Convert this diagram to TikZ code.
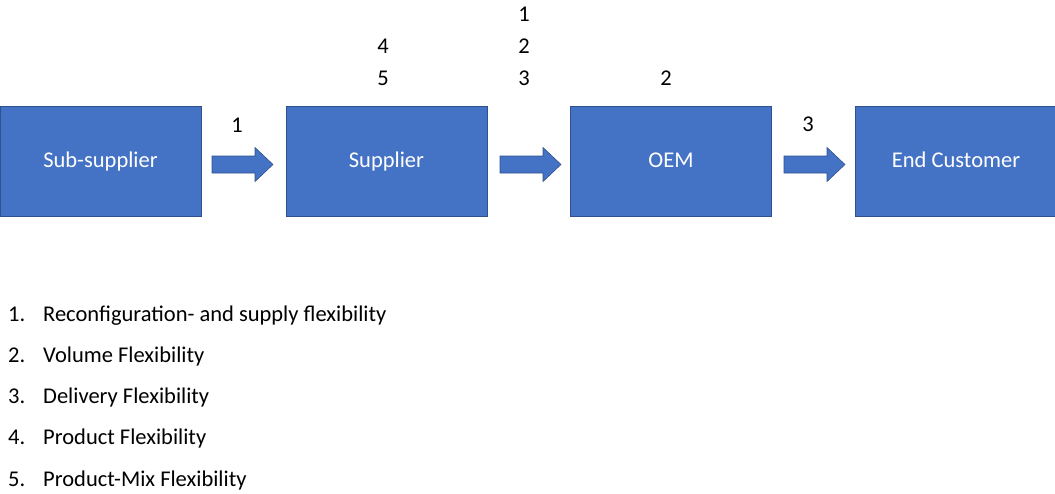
\documentclass[tikz,border=0pt]{standalone}
\usepackage{fontspec}
\setmainfont{Carlito}
\definecolor{boxblue}{HTML}{4472C4}
\definecolor{boxedge}{HTML}{2F528F}
\begin{document}
\begin{tikzpicture}[x=1pt,y=-1pt,
  every node/.style={font=\fontsize{22.5}{27}\selectfont, inner sep=0pt},
  stage/.style={rectangle, fill=boxblue, draw=boxedge, line width=0.6pt,
    minimum width=201pt, minimum height=110pt, text=white,
    text height=16pt, text depth=4pt},
  tag/.style={anchor=base, text=black},
  item/.style={anchor=base west, text=black},
  blockarrow/.pic={
    \draw[fill=boxblue, draw=boxedge, line width=0.6pt]
      (0,-8.5) -- (43,-8.5) -- (43,-17) -- (61,0) -- (43,17) -- (43,8.5) -- (0,8.5) -- cycle;
  }]
\useasboundingbox (0,0) rectangle (1055,493);

% supply chain stages
\node[stage] (sub) at (100.5,161) {Sub-supplier};
\node[stage] (sup) at (386.5,161) {Supplier};
\node[stage] (oem) at (671,161) {OEM};
\node[stage] (cust) at (956,161) {End Customer};

% flow arrows between stages
\pic at (212,164.5) {blockarrow};
\pic at (500,164.5) {blockarrow};
\pic at (784,164.5) {blockarrow};

% flexibility types at each link and stage
\node[tag] (f1a) at (237,132) {1};
\node[tag] (f4) at (383,53) {4};
\node[tag] (f5) at (383,85) {5};
\node[tag] (f1b) at (524,21) {1};
\node[tag] (f2a) at (524,53) {2};
\node[tag] (f3a) at (524,85) {3};
\node[tag] (f2b) at (666,85) {2};
\node[tag] (f3b) at (808,131) {3};

% legend
\node[item] (l1) at (8,321) {\makebox[35pt][l]{1.}Reconfiguration- and supply flexibility};
\node[item] (l2) at (8,362) {\makebox[35pt][l]{2.}Volume Flexibility};
\node[item] (l3) at (8,403.5) {\makebox[35pt][l]{3.}Delivery Flexibility};
\node[item] (l4) at (8,444.5) {\makebox[35pt][l]{4.}Product Flexibility};
\node[item] (l5) at (8,486) {\makebox[35pt][l]{5.}Product-Mix Flexibility};
\end{tikzpicture}
\end{document}
